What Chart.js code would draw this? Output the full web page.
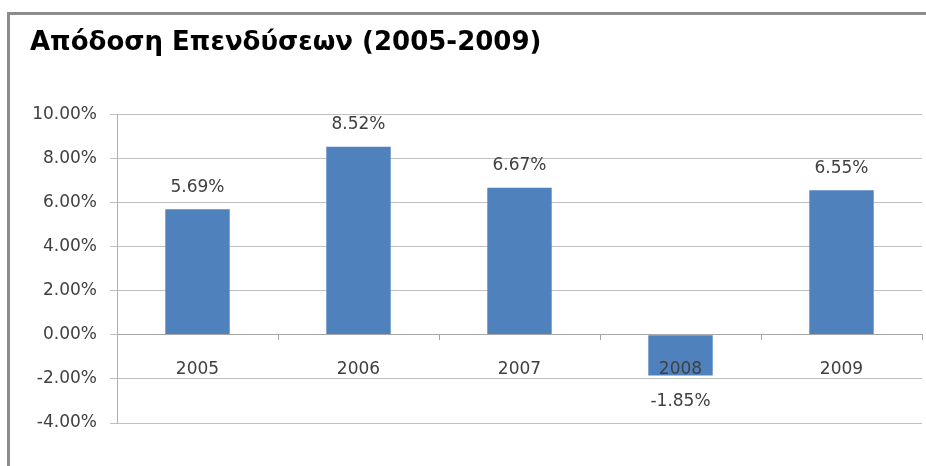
<!DOCTYPE html>
<html>
<head>
<meta charset="utf-8">
<script src="https://cdn.jsdelivr.net/npm/chart.js@4.4.0/dist/chart.umd.min.js"></script>
<style>
  html, body { margin: 0; padding: 0; background: #fff; }
  #wrap { position: relative; width: 926px; height: 466px; overflow: hidden; }
  #frame { position: absolute; left: 7px; top: 12px; width: 940px; height: 470px;
           border-top: 3px solid #8c8c8c; border-left: 3px solid #8c8c8c; }
  canvas { position: absolute; left: 0; top: 0; }
</style>
</head>
<body>
<div id="wrap">
  <div id="frame"></div>
  <canvas id="chart" width="926" height="466"></canvas>
</div>
<script>
const years = ['2005', '2006', '2007', '2008', '2009'];
const returns = [5.69, 8.52, 6.67, -1.85, 6.55];
const chartTitle = 'Απόδοση Επενδύσεων (2005-2009)';
const yMin = -4, yMax = 10, yStep = 2;

const fmt = v => v.toFixed(2) + '%';

Chart.defaults.font.family = '"DejaVu Sans", sans-serif';
Chart.defaults.font.size = 17;
Chart.defaults.color = '#404040';

// value labels above / below each bar
const valueLabels = {
  id: 'valueLabels',
  afterDatasetsDraw(chart) {
    const ctx = chart.ctx;
    const meta = chart.getDatasetMeta(0);
    ctx.save();
    ctx.font = '17px "DejaVu Sans", sans-serif';
    ctx.fillStyle = '#404040';
    ctx.textAlign = 'center';
    ctx.textBaseline = 'middle';
    meta.data.forEach((bar, i) => {
      const v = returns[i];
      const y = v >= 0 ? bar.y - 22 : bar.y + 26;
      ctx.fillText(fmt(v), bar.x, y);
    });
    ctx.restore();
  }
};

new Chart(document.getElementById('chart'), {
  type: 'bar',
  data: {
    labels: years,
    datasets: [{
      data: returns,
      backgroundColor: '#4f81bd',
      categoryPercentage: 1,
      barPercentage: 0.4
    }]
  },
  options: {
    responsive: false,
    animation: false,
    layout: { padding: { left: 30, right: 4, top: 0, bottom: 43 } },
    plugins: {
      legend: { display: false },
      tooltip: { enabled: false },
      title: {
        display: true,
        text: chartTitle,
        align: 'start',
        color: '#000',
        font: { size: 26, weight: 'bold' },
        padding: { top: 28, bottom: 55 }
      }
    },
    scales: {
      x: {
        position: { y: 0 },
        grid: { drawOnChartArea: false, color: '#a6a6a6', tickLength: 5, offset: true },
        border: { color: '#a6a6a6', z: 1 },
        // category labels drawn over the bars, like the original
        ticks: { padding: 20, maxRotation: 0, z: 1 }
      },
      y: {
        min: yMin,
        max: yMax,
        ticks: { stepSize: yStep, padding: 13, callback: v => fmt(v) },
        grid: { color: '#c0c0c0', tickLength: 7 },
        border: { color: '#b0b0b0' },
        afterFit: s => { s.width = 87; }
      }
    }
  },
  plugins: [valueLabels]
});
</script>
</body>
</html>
